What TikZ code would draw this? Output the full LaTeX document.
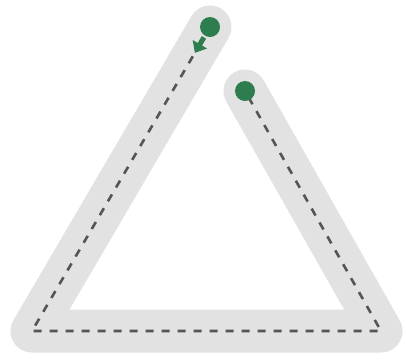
\documentclass[tikz,border=0pt]{standalone}
\usepackage{xcolor}
\usepackage{tikz}
\usetikzlibrary{arrows.meta,calc}

\definecolor{bandgray}{HTML}{E2E2E2}
\definecolor{pathgreen}{HTML}{2E7D4E}
\definecolor{dashgray}{HTML}{555555}

\tikzset{
  dot/.style={circle, fill=pathgreen, inner sep=0pt, minimum size=20pt},
}

\begin{document}
\begin{tikzpicture}[x=1pt, y=-1pt]
  \useasboundingbox (0,0) rectangle (406,360);
  % Eckpunkte
  \coordinate (top) at (210,27);
  \coordinate (bl)  at (32,331);
  \coordinate (br)  at (381,331);
  \coordinate (end) at (245,91);
  % Band
  \draw[bandgray, line width=43pt, line cap=round, line join=round]
    (top) -- (bl) -- (br) -- (end);
  % gestrichelte Spur
  \draw[dashgray, line width=2.6pt, dash pattern=on 8pt off 8pt]
    ($(top)!34pt!(bl)$) -- (bl) -- (br) -- (end);
  % Start, Ziel
  \node[dot] (start) at (top) {};
  \node[dot] (goal)  at (end) {};
  % Richtungspfeil
  \draw[-{Triangle[width=16pt,length=10pt]}, pathgreen, line width=5pt]
    ($(top)!12pt!(bl)$) -- ($(top)!30pt!(bl)$);
\end{tikzpicture}
\end{document}
